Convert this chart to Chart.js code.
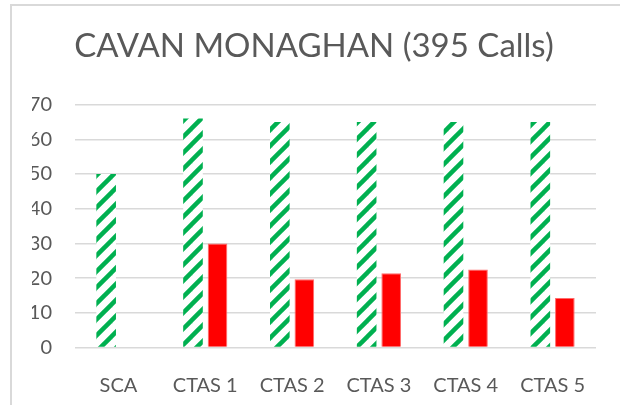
<!DOCTYPE html>
<html>
<head>
<meta charset="utf-8">
<script src="https://cdn.jsdelivr.net/npm/chart.js@4"></script>
<style>
  html, body { margin: 0; padding: 0; background: #fff; }
  #wrap { position: relative; width: 620px; height: 405px; overflow: hidden; }
  #frame { position: absolute; left: 10px; top: 4px; width: 640px; height: 440px;
           border-left: 2px solid #d9d9d9; border-top: 2px solid #d9d9d9; }
  canvas { position: absolute; left: 0; top: 0; }
</style>
</head>
<body>
<div id="wrap">
  <div id="frame"></div>
  <canvas id="chart" width="620" height="405"></canvas>
</div>
<script>
// --- chart data ---
const categories = ['SCA', 'CTAS 1', 'CTAS 2', 'CTAS 3', 'CTAS 4', 'CTAS 5'];
const hatchedValues = [50, 66, 65, 65, 65, 65];
const redValues = [null, 30, 19.7, 21.4, 22.5, 14.3];
const yTicks = [0, 10, 20, 30, 40, 50, 60, 70];
const titleText = 'CAVAN MONAGHAN (395 Calls)';

// green "wide upward diagonal" hatch, like the Excel pattern fill
const makeHatch = () => {
    const tile = document.createElement('canvas');
    tile.width = 16; tile.height = 16;
    const c = tile.getContext('2d');
    c.fillStyle = '#ffffff';
    c.fillRect(0, 0, 16, 16);
    c.strokeStyle = '#00b050';
    c.lineWidth = 4.5;
    [[-8, 8, 8, -8], [0, 16, 16, 0], [8, 24, 24, 8]].forEach(([x1, y1, x2, y2]) => {
        c.beginPath(); c.moveTo(x1, y1); c.lineTo(x2, y2); c.stroke();
    });
    return c.createPattern(tile, 'repeat');
};

const ctx = document.getElementById('chart').getContext('2d');
const fontFamily = 'Lato, "Open Sans", sans-serif';

new Chart(ctx, {
    type: 'bar',
    data: {
        labels: categories,
        datasets: [
            { label: 'Series 1', data: hatchedValues, backgroundColor: makeHatch(), borderWidth: 0 },
            { label: 'Series 2', data: redValues, backgroundColor: '#ff0000', borderColor: '#ff6b6b', borderWidth: 1 }
        ]
    },
    options: {
        responsive: false,
        animation: false,
        layout: { padding: { top: 0, right: 24, bottom: 0, left: 32 } },
        datasets: { bar: { categoryPercentage: 0.565, barPercentage: 0.8 } },
        plugins: {
            legend: { display: false },
            tooltip: { enabled: false },
            title: {
                display: true,
                text: titleText,
                color: '#595959',
                font: { family: fontFamily, size: 33, weight: 'normal' },
                padding: { top: 27, bottom: 38 }
            }
        },
        scales: {
            x: {
                afterFit: (s) => { s.height = 57.5; },
                grid: { display: false },
                border: { display: false },
                ticks: { color: '#595959', padding: 18, maxRotation: 0, font: { family: fontFamily, size: 20 } }
            },
            y: {
                min: 0,
                max: 70,
                afterBuildTicks: (s) => { s.ticks = yTicks.map(v => ({ value: v })); },
                afterFit: (s) => { s.width = 43; },
                grid: { color: '#d9d9d9', lineWidth: 1.5, drawTicks: false },
                border: { display: false },
                ticks: { color: '#595959', padding: 23, font: { family: fontFamily, size: 20 } }
            }
        }
    }
});
</script>
</body>
</html>
